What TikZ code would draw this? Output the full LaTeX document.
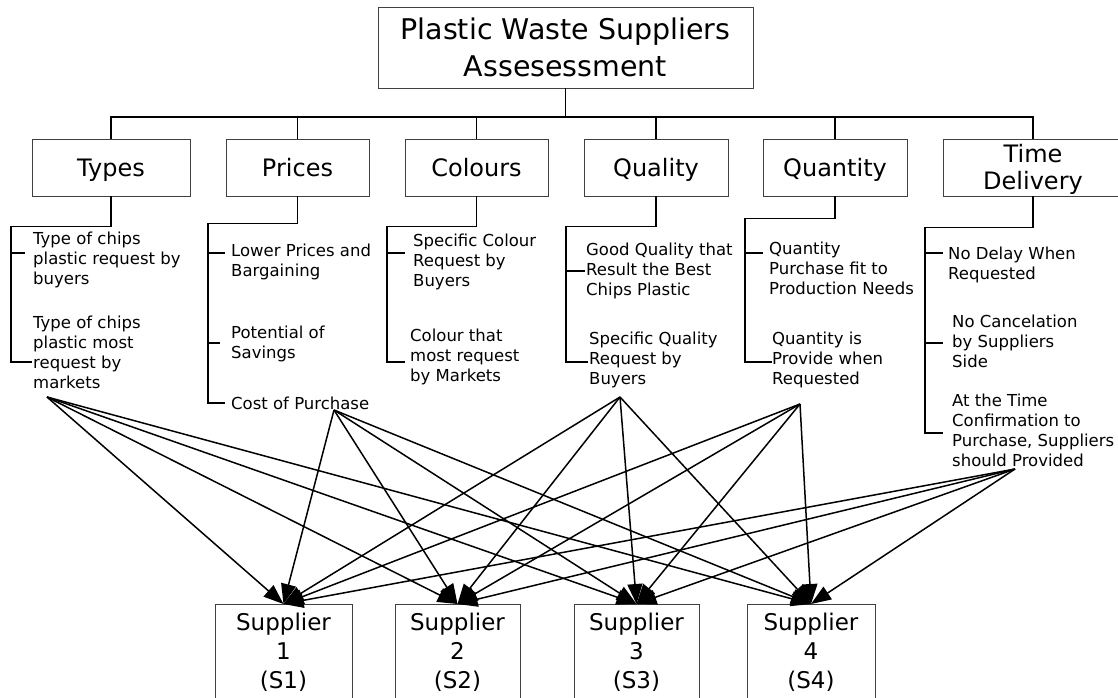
\documentclass[tikz,border=0pt]{standalone}
\usepackage{fontspec}
\setmainfont{DejaVu Sans}
\usetikzlibrary{arrows.meta}
\newcommand\vs{\rule[\dimexpr(0.73em-\baselineskip)/2\relax]{0pt}{\baselineskip}}
\begin{document}
\begin{tikzpicture}[x=1pt,y=-1pt,
  box/.style={draw=black!75, line width=0.8pt, inner sep=0pt, align=center, minimum height=57pt},
  crit/.style={box, font=\fontsize{24}{27}\selectfont},
  sub/.style={inner sep=0pt, align=left, anchor=north west, font=\fontsize{16.5}{20}\selectfont},
  sup/.style={draw=black!75, line width=0.8pt, inner sep=0pt, align=center, anchor=north,
              minimum height=94pt, font=\fontsize{23}{29}\selectfont},
  conn/.style={line width=1.6pt},
  arr/.style={line width=1.5pt, -{Triangle[length=20pt,width=15pt]}}]
\useasboundingbox (0,0) rectangle (1118,697);

% goal
\node[box, font=\fontsize{28.5}{37}\selectfont, minimum width=375pt, minimum height=81pt] (top) at (565.5,47.5)
  {\vs Plastic Waste Suppliers\\\vs Assesessment};

% criteria
\node[crit, minimum width=158pt] (types)    at (111,167.5)   {\vs Types};
\node[crit, minimum width=143pt] (prices)   at (297.5,167.5) {\vs Prices};
\node[crit, minimum width=143pt] (colours)  at (476.5,167.5) {\vs Colours};
\node[crit, minimum width=144pt] (quality)  at (656,167.5)   {\vs Quality};
\node[crit, minimum width=144pt] (quantity) at (835,167.5)   {\vs Quantity};
\node[crit, minimum width=180pt] (time)     at (1033,167.5)  {\vs Time\\\vs Delivery};

\coordinate (bus) at (565.5,117);
\draw[conn] (top.south) -- (bus);
\draw[conn] (types.north) |- (bus) -| (time.north);
\foreach \n in {prices,colours,quality,quantity} \draw[conn] (\n.north) -- (\n.north |- bus);

% sub-criteria
\node[sub] (t1) at (33,228) {\vs Type of chips\\\vs plastic request by\\\vs buyers};
\node[sub] (t2) at (33,312) {\vs Type of chips\\\vs plastic most\\\vs request by\\\vs markets};
\node[sub] (p1) at (231,240) {\vs Lower Prices and\\\vs Bargaining};
\node[sub] (p2) at (231,322) {\vs Potential of\\\vs Savings};
\node[sub] (p3) at (231,393) {\vs Cost of Purchase};
\node[sub] (c1) at (413,230) {\vs Specific Colour\\\vs Request by\\\vs Buyers};
\node[sub] (c2) at (410,325) {\vs Colour that\\\vs most request\\\vs by Markets};
\node[sub] (q1) at (586,239) {\vs Good Quality that\\\vs Result the Best\\\vs Chips Plastic};
\node[sub] (q2) at (589,328) {\vs Specific Quality\\\vs Request by\\\vs Buyers};
\node[sub] (n1) at (769,238) {\vs Quantity\\\vs Purchase fit to\\\vs Production Needs};
\node[sub] (n2) at (772,328) {\vs Quantity is\\\vs Provide when\\\vs Requested};
\node[sub] (d1) at (948,243) {\vs No Delay When\\\vs Requested};
\node[sub] (d2) at (952,311) {\vs No Cancelation\\\vs by Suppliers\\\vs Side};
\node[sub] (d3) at (952,390) {\vs At the Time\\\vs Confirmation to\\\vs Purchase, Suppliers\\\vs should Provided};

% brackets
\draw[conn] (types.south) -- ++(0,30) -| (11,362) -- (32,362);
\draw[conn] (11,253) -- (25,253);
\draw[conn] (prices.south) -- ++(0,27) -| (208,403) -- (225,403);
\draw[conn] (208,253) -- (225,253);
\draw[conn] (208,343) -- (220,343);
\draw[conn] (colours.south) -- ++(0,30) -| (387,362) -- (405,362);
\draw[conn] (387,253) -- (405,253);
\draw[conn] (quality.south) -- ++(0,30) -| (566,362) -- (588,362);
\draw[conn] (566,271) -- (585,271);
\draw[conn] (quantity.south) -- ++(0,22) -| (745,362) -- (772,362);
\draw[conn] (745,253) -- (763,253);
\draw[conn] (time.south) -- ++(0,31) -| (925,433) -- (943,433);
\draw[conn] (925,253) -- (943,253);
\draw[conn] (925,343) -- (943,343);

% suppliers
\node[sup, minimum width=137pt] (s1) at (283.5,604) {\vs Supplier\\\vs 1\\\vs (S1)};
\node[sup, minimum width=125pt] (s2) at (457.5,604) {\vs Supplier\\\vs 2\\\vs (S2)};
\node[sup, minimum width=125pt] (s3) at (636.5,604) {\vs Supplier\\\vs 3\\\vs (S3)};
\node[sup, minimum width=128pt] (s4) at (811,604)   {\vs Supplier\\\vs 4\\\vs (S4)};

% arrow sources
\coordinate (sa) at (47,397);
\coordinate (sb) at (334,410);
\coordinate (sc) at (620,397);
\coordinate (sd) at (800,404);
\coordinate (se) at (1015,469);
\foreach \s in {sa,sb,sc,sd,se}
  \foreach \t in {s1,s2,s3,s4}
    \draw[arr] (\s) -- (\t.north);
\end{tikzpicture}
\end{document}
